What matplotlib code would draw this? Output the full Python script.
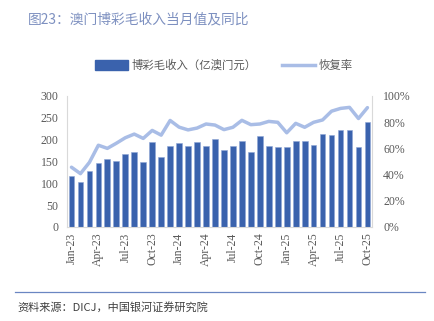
import numpy as np
import matplotlib.pyplot as plt
from matplotlib.patches import Patch
from matplotlib.lines import Line2D

plt.rcParams['font.family'] = ['Noto Sans CJK SC', 'DejaVu Sans']

# monthly data, Jan-23 .. Oct-25
months = ['Jan-23', 'Feb-23', 'Mar-23', 'Apr-23', 'May-23', 'Jun-23', 'Jul-23', 'Aug-23',
          'Sep-23', 'Oct-23', 'Nov-23', 'Dec-23', 'Jan-24', 'Feb-24', 'Mar-24', 'Apr-24',
          'May-24', 'Jun-24', 'Jul-24', 'Aug-24', 'Sep-24', 'Oct-24', 'Nov-24', 'Dec-24',
          'Jan-25', 'Feb-25', 'Mar-25', 'Apr-25', 'May-25', 'Jun-25', 'Jul-25', 'Aug-25',
          'Sep-25', 'Oct-25']
ggr = [115.8, 103.2, 127.4, 147.2, 155.7, 152.1, 166.6, 172.1, 149.3, 195.0, 160.4, 185.7,
       193.4, 184.9, 195.0, 185.5, 201.9, 176.9, 186.0, 197.5, 172.5, 207.9, 184.4, 182.5,
       182.5, 197.4, 196.7, 188.6, 211.9, 210.6, 221.3, 221.6, 182.9, 240.9]
recovery = [45.6, 40.7, 49.3, 62.4, 60.0, 63.9, 68.1, 70.9, 67.6, 73.7, 70.1, 81.3,
            76.2, 74.1, 75.5, 78.6, 77.8, 74.3, 76.1, 81.4, 78.1, 78.6, 80.6, 79.9,
            71.9, 79.1, 76.1, 79.9, 81.7, 88.4, 90.5, 91.3, 82.8, 91.1]

bar_color = '#3a62ad'
line_color = '#a9bde6'
txt_color = '#595959'
num_font = 'Liberation Serif'

fig = plt.figure(figsize=(4.35, 3.21), dpi=100)
ax = fig.add_axes([0.154, 0.293, 0.701, 0.408])
ax2 = ax.twinx()

x = np.arange(len(months))
ax.bar(x, ggr, width=0.64, color=bar_color, edgecolor='#8fa6d6', linewidth=0.4, zorder=2)
ax2.plot(x, recovery, color=line_color, lw=2.5, solid_joinstyle='round',
         solid_capstyle='round', zorder=3)

ax.set_xlim(-0.5, len(months) - 0.5)
ax.set_ylim(0, 300)
ax.set_yticks(range(0, 301, 50))
ax2.set_ylim(0, 100)
ax2.set_yticks(range(0, 101, 20))
ax2.set_yticklabels([f'{v}%' for v in range(0, 101, 20)])

ax.set_xticks(x[::3])
ax.set_xticklabels(months[::3], rotation=90)

for a in (ax, ax2):
    a.tick_params(length=0, labelsize=8.5, labelcolor=txt_color, pad=6)
    for lab in a.get_xticklabels() + a.get_yticklabels():
        lab.set_fontfamily(num_font)
    for s in a.spines.values():
        s.set_visible(False)
ax.tick_params(axis='x', pad=4)
ax2.tick_params(axis='y', pad=8)
ax.spines['left'].set_visible(True)
ax.spines['left'].set_color('#d9d9d9')
ax2.spines['right'].set_visible(True)
ax2.spines['right'].set_color('#d9d9d9')
ax.spines['bottom'].set_visible(True)
ax.spines['bottom'].set_color('#d9d9d9')

# legend
handles = [Patch(facecolor=bar_color, edgecolor=bar_color),
           Line2D([0], [0], color=line_color, lw=2.5)]
fig.legend(handles, ['博彩毛收入（亿澳门元）', '恢复率'], loc='center',
           bbox_to_anchor=(0.515, 0.797), ncol=2, frameon=False, fontsize=8.2,
           labelcolor=txt_color, handlelength=2.9, handleheight=0.9,
           handletextpad=0.3, columnspacing=2.2)

# title, separator, source
fig.text(0.064, 0.938, '图23：澳门博彩毛收入当月值及同比', fontsize=9.9,
         color='#7d90c0', va='center')
fig.add_artist(Line2D([0.035, 0.978], [0.09, 0.09], color='#6a86c2', lw=0.9))
fig.text(0.041, 0.043, '资料来源：DICJ，中国银河证券研究院', fontsize=8,
         color='#404040', va='center', style='italic')

fig.savefig('out.png', dpi=100)
